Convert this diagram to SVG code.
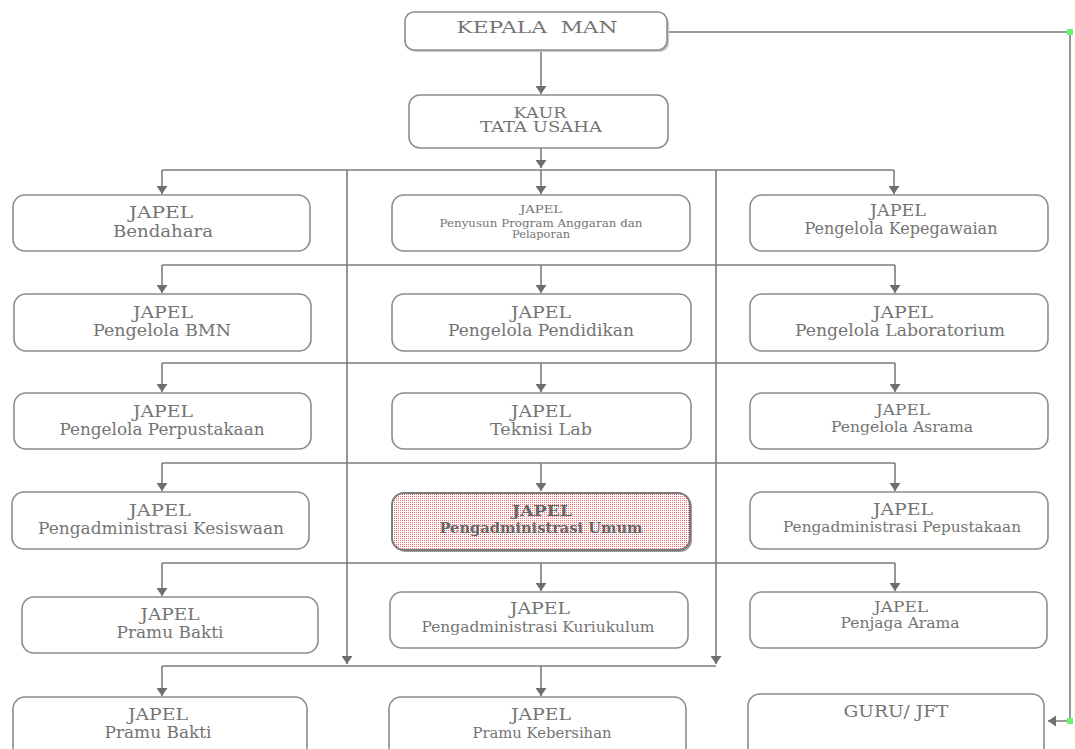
<svg xmlns="http://www.w3.org/2000/svg" width="1075" height="749" viewBox="0 0 1075 749">
  <defs>
    <style>
      .box { fill: #ffffff; stroke: #8c8c8c; stroke-width: 1.6; }
      .t { font-family: "DejaVu Serif", "Liberation Serif", serif; fill: #747474; font-size: 16.5px; text-anchor: middle; }
      .hd { font-size: 17px; }
      .sm { font-size: 11px; }
      .ln { fill: none; stroke: #7c7c7c; stroke-width: 1.6; }
      .arr { marker-end: url(#head); }
      .dot { fill: #6cf26c; }
      .hl { font-weight: bold; fill: #676767; font-size: 14.5px; }
    </style>
    <marker id="head" viewBox="0 0 8 11" markerUnits="userSpaceOnUse" markerWidth="8" markerHeight="11" refX="8" refY="5.5" orient="auto">
      <path d="M0,0 L8,5.5 L0,11 Z" fill="#6e6e6e"/>
    </marker>
    <pattern id="dots" width="2" height="2" patternUnits="userSpaceOnUse">
      <rect width="2" height="2" fill="#ffffff"/>
      <rect width="1" height="1" fill="#ee6a6a"/>
    </pattern>
  </defs>

  <rect width="1075" height="749" fill="#ffffff"/>

  <!-- connectors -->
  <g id="connectors">
    <path class="ln arr" d="M541,50 V94"/>
    <path class="ln arr" d="M541,148 V168"/>
    <!-- vertical feeders -->
    <path class="ln arr" d="M347,170 V664"/>
    <path class="ln arr" d="M716,170 V664"/>
    <!-- row 1 -->
    <path class="ln" d="M162,170 H894"/>
    <path class="ln arr" d="M162,170 V194"/>
    <path class="ln arr" d="M541,170 V194"/>
    <path class="ln arr" d="M894,170 V194"/>
    <!-- row 2 -->
    <path class="ln" d="M162,265 H895"/>
    <path class="ln arr" d="M162,265 V293"/>
    <path class="ln arr" d="M541,265 V293"/>
    <path class="ln arr" d="M895,265 V293"/>
    <!-- row 3 -->
    <path class="ln" d="M162,363 H895"/>
    <path class="ln arr" d="M162,363 V392"/>
    <path class="ln arr" d="M541,363 V392"/>
    <path class="ln arr" d="M895,363 V392"/>
    <!-- row 4 -->
    <path class="ln" d="M162,463 H895"/>
    <path class="ln arr" d="M162,463 V491"/>
    <path class="ln arr" d="M541,463 V491"/>
    <path class="ln arr" d="M895,463 V491"/>
    <!-- row 5 -->
    <path class="ln" d="M162,563 H895"/>
    <path class="ln arr" d="M162,563 V596"/>
    <path class="ln arr" d="M541,563 V591"/>
    <path class="ln arr" d="M895,563 V591"/>
    <!-- row 6 -->
    <path class="ln" d="M162,666 H716"/>
    <path class="ln arr" d="M162,666 V696"/>
    <path class="ln arr" d="M541,666 V696"/>
    <!-- head to teachers -->
    <path class="ln arr" d="M667,32 H1070 V721 H1048"/>
    <rect class="dot" x="1067" y="29" width="6" height="6"/>
    <rect class="dot" x="1067" y="718" width="6" height="6"/>
  </g>

  <g id="kepala-man">
    <rect x="407" y="14" width="262" height="38" rx="9" fill="#c8c8c8"/>
    <rect class="box" x="405" y="12" width="262" height="38" rx="9"/>
    <text class="t" x="537" y="33" style="font-size:16.5px" textLength="161" lengthAdjust="spacingAndGlyphs" xml:space="preserve">KEPALA  MAN</text>
  </g>

  <g id="kaur-tu">
    <rect class="box" x="409" y="95" width="259" height="53" rx="11"/>
    <text class="t" x="540" y="118" style="font-size:14px" textLength="53" lengthAdjust="spacingAndGlyphs">KAUR</text>
    <text class="t" x="541" y="132" style="font-size:14px" textLength="122" lengthAdjust="spacingAndGlyphs">TATA USAHA</text>
  </g>

  <!-- row 1 -->
  <g id="bendahara">
    <rect class="box" x="13" y="195" width="297" height="56" rx="12"/>
    <text class="t hd" x="161" y="218" textLength="64" lengthAdjust="spacingAndGlyphs">JAPEL</text>
    <text class="t" x="163" y="237" textLength="100" lengthAdjust="spacingAndGlyphs">Bendahara</text>
  </g>
  <g id="penyusun-program">
    <rect class="box" x="392" y="195" width="298" height="56" rx="12"/>
    <text class="t sm" x="541" y="213" textLength="42" lengthAdjust="spacingAndGlyphs">JAPEL</text>
    <text class="t sm" x="541" y="227" textLength="203" lengthAdjust="spacingAndGlyphs">Penyusun Program Anggaran dan</text>
    <text class="t sm" x="541" y="238" textLength="58" lengthAdjust="spacingAndGlyphs">Pelaporan</text>
  </g>
  <g id="kepegawaian">
    <rect class="box" x="750" y="195" width="298" height="56" rx="12"/>
    <text class="t hd" x="898" y="216" textLength="56" lengthAdjust="spacingAndGlyphs">JAPEL</text>
    <text class="t" x="901" y="234" textLength="193" lengthAdjust="spacingAndGlyphs">Pengelola Kepegawaian</text>
  </g>

  <!-- row 2 -->
  <g id="bmn">
    <rect class="box" x="14" y="294" width="297" height="57" rx="12"/>
    <text class="t hd" x="163" y="318" textLength="60" lengthAdjust="spacingAndGlyphs">JAPEL</text>
    <text class="t" x="162" y="336" textLength="138" lengthAdjust="spacingAndGlyphs">Pengelola BMN</text>
  </g>
  <g id="pendidikan">
    <rect class="box" x="392" y="294" width="299" height="57" rx="12"/>
    <text class="t hd" x="541" y="318" textLength="60" lengthAdjust="spacingAndGlyphs">JAPEL</text>
    <text class="t" x="541" y="336" textLength="186" lengthAdjust="spacingAndGlyphs">Pengelola Pendidikan</text>
  </g>
  <g id="laboratorium">
    <rect class="box" x="750" y="294" width="298" height="57" rx="12"/>
    <text class="t hd" x="903" y="318" textLength="60" lengthAdjust="spacingAndGlyphs">JAPEL</text>
    <text class="t" x="900" y="336" textLength="210" lengthAdjust="spacingAndGlyphs">Pengelola Laboratorium</text>
  </g>

  <!-- row 3 -->
  <g id="perpustakaan">
    <rect class="box" x="14" y="393" width="297" height="56" rx="12"/>
    <text class="t hd" x="163" y="417" textLength="60" lengthAdjust="spacingAndGlyphs">JAPEL</text>
    <text class="t" x="162" y="435" textLength="205" lengthAdjust="spacingAndGlyphs">Pengelola Perpustakaan</text>
  </g>
  <g id="teknisi-lab">
    <rect class="box" x="392" y="393" width="299" height="56" rx="12"/>
    <text class="t hd" x="541" y="417" textLength="60" lengthAdjust="spacingAndGlyphs">JAPEL</text>
    <text class="t" x="541" y="435" textLength="102" lengthAdjust="spacingAndGlyphs">Teknisi Lab</text>
  </g>
  <g id="asrama">
    <rect class="box" x="750" y="393" width="298" height="56" rx="12"/>
    <text class="t" x="903" y="415" style="font-size:15.5px" textLength="54" lengthAdjust="spacingAndGlyphs">JAPEL</text>
    <text class="t" x="902" y="432" style="font-size:15px" textLength="142" lengthAdjust="spacingAndGlyphs">Pengelola Asrama</text>
  </g>

  <!-- row 4 -->
  <g id="kesiswaan">
    <rect class="box" x="12" y="492" width="297" height="57" rx="12"/>
    <text class="t hd" x="160" y="516" textLength="62" lengthAdjust="spacingAndGlyphs">JAPEL</text>
    <text class="t" x="161" y="534" textLength="246" lengthAdjust="spacingAndGlyphs">Pengadministrasi Kesiswaan</text>
  </g>
  <g id="umum">
    <rect x="394" y="495" width="298" height="57" rx="12" fill="#9a9a9a"/>
    <rect x="392" y="493" width="298" height="57" rx="12" fill="url(#dots)" stroke="#7a7a7a" stroke-width="2"/>
    <text class="t hl" x="542" y="516" textLength="60" lengthAdjust="spacingAndGlyphs">JAPEL</text>
    <text class="t hl" x="541" y="533" textLength="203" lengthAdjust="spacingAndGlyphs">Pengadministrasi Umum</text>
  </g>
  <g id="pepustakaan">
    <rect class="box" x="750" y="492" width="298" height="57" rx="12"/>
    <text class="t" x="903" y="515" textLength="60" lengthAdjust="spacingAndGlyphs">JAPEL</text>
    <text class="t" x="902" y="532" style="font-size:15px" textLength="238" lengthAdjust="spacingAndGlyphs">Pengadministrasi Pepustakaan</text>
  </g>

  <!-- row 5 -->
  <g id="pramu-bakti-1">
    <rect class="box" x="22" y="597" width="296" height="56" rx="12"/>
    <text class="t hd" x="170" y="620" textLength="59" lengthAdjust="spacingAndGlyphs">JAPEL</text>
    <text class="t" x="170" y="638" textLength="107" lengthAdjust="spacingAndGlyphs">Pramu Bakti</text>
  </g>
  <g id="kuriukulum">
    <rect class="box" x="390" y="592" width="298" height="56" rx="12"/>
    <text class="t" x="540" y="614" textLength="60" lengthAdjust="spacingAndGlyphs">JAPEL</text>
    <text class="t" x="538" y="632" style="font-size:15.5px" textLength="233" lengthAdjust="spacingAndGlyphs">Pengadministrasi Kuriukulum</text>
  </g>
  <g id="penjaga-arama">
    <rect class="box" x="750" y="592" width="297" height="56" rx="12"/>
    <text class="t" x="901" y="612" style="font-size:15px" textLength="54" lengthAdjust="spacingAndGlyphs">JAPEL</text>
    <text class="t" x="900" y="628" style="font-size:15px" textLength="119" lengthAdjust="spacingAndGlyphs">Penjaga Arama</text>
  </g>

  <!-- row 6 -->
  <g id="pramu-bakti-2">
    <rect class="box" x="13" y="697" width="294" height="70" rx="12"/>
    <text class="t hd" x="158" y="720" textLength="60" lengthAdjust="spacingAndGlyphs">JAPEL</text>
    <text class="t" x="158" y="738" textLength="107" lengthAdjust="spacingAndGlyphs">Pramu Bakti</text>
  </g>
  <g id="kebersihan">
    <rect class="box" x="389" y="697" width="297" height="70" rx="12"/>
    <text class="t" x="541" y="720" textLength="60" lengthAdjust="spacingAndGlyphs">JAPEL</text>
    <text class="t" x="542" y="738" style="font-size:15.5px" textLength="139" lengthAdjust="spacingAndGlyphs">Pramu Kebersihan</text>
  </g>
  <g id="guru-jft">
    <rect class="box" x="748" y="694" width="296" height="70" rx="12"/>
    <text class="t" x="896" y="717" style="font-size:17px" textLength="105" lengthAdjust="spacingAndGlyphs">GURU/ JFT</text>
  </g>
</svg>
